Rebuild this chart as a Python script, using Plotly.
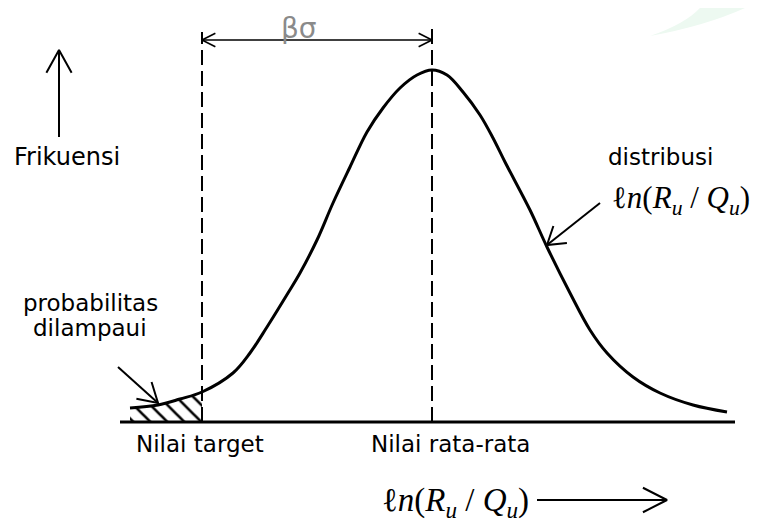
import math
import plotly.graph_objects as go

# ---- data (x: ln(Ru/Qu) axis units, f: frequency) ----
curve_x = [130, 158, 180, 202, 233, 250, 267, 288, 300, 317, 333, 350, 367, 383, 400, 417,
           432, 447, 463, 480, 493, 505, 530, 547, 570, 590, 607, 633, 660, 693, 727]
curve_f = [14, 17, 23, 30, 49, 69, 95, 129, 149, 182, 219, 255, 290, 314, 334, 347,
           352, 347, 330, 307, 284, 260, 212, 175, 129, 92, 69, 45, 29, 17, 10]
target_x = 202
mean_x = 432
axis_x = [120, 735]

labels = {
    "beta": "βσ",
    "freq": "Frikuensi",
    "dist": "distribusi",
    "prob1": "probabilitas",
    "prob2": "dilampaui",
    "target": "Nilai target",
    "mean": "Nilai rata-rata",
}
formula = "ℓ<i>n</i>(<i>R</i><sub><i>u</i></sub> / <i>Q</i><sub><i>u</i></sub>)"

# page body has an 8px margin: figure sized to fill the rest of the window
W, H = 750, 514
X_RANGE = [8, 758]
Y_RANGE = [-100, 414]

fig = go.Figure()

# hatched exceedance region
hx = [x for x in curve_x if x <= target_x]
hf = curve_f[:len(hx)]
fig.add_trace(go.Scatter(x=hx, y=hf, mode="lines", line=dict(width=0, shape="spline"),
                         fill="tozeroy", fillcolor="white",
                         fillpattern=dict(shape="\\", fgcolor="black", fgopacity=1,
                                          bgcolor="white", size=12, solidity=0.22),
                         hoverinfo="skip", showlegend=False))

# dashed vertical lines
fig.add_trace(go.Scatter(x=[target_x, target_x], y=[0, 390], mode="lines",
                         line=dict(color="black", width=2, dash="15px,6px"), showlegend=False))
fig.add_trace(go.Scatter(x=[mean_x, mean_x], y=[0, 397], mode="lines",
                         line=dict(color="black", width=2, dash="15px,6px"), showlegend=False))

# distribution curve
fig.add_trace(go.Scatter(x=curve_x, y=curve_f, mode="lines",
                         line=dict(color="black", width=3, shape="spline", smoothing=1.0),
                         showlegend=False))

# baseline
fig.add_trace(go.Scatter(x=axis_x, y=[0, 0], mode="lines",
                         line=dict(color="black", width=3), showlegend=False))


def head(tip, tail, L, spread):
    ang = math.atan2(tail[1] - tip[1], tail[0] - tip[0])
    xs, ys = [], []
    for s in (-spread, spread):
        a = ang + math.radians(s)
        xs.append(tip[0] + L * math.cos(a))
        ys.append(tip[1] + L * math.sin(a))
    return [xs[0], tip[0], xs[1], None], [ys[0], tip[1], ys[1], None]


def arrow(tail, tip, L, spread, width=2, both=False, color="black"):
    xs = [tail[0], tip[0], None]
    ys = [tail[1], tip[1], None]
    hx_, hy_ = head(tip, tail, L, spread)
    xs += hx_
    ys += hy_
    if both:
        hx_, hy_ = head(tail, tip, L, spread)
        xs += hx_
        ys += hy_
    fig.add_trace(go.Scatter(x=xs, y=ys, mode="lines",
                             line=dict(color=color, width=width), showlegend=False))


arrow((59, 285), (59, 372), 26, 29)                       # frequency axis arrow
arrow((target_x, 382), (mean_x, 382), 15, 27, width=1.6, both=True)  # beta sigma
arrow((600, 219), (547, 177), 20, 33)                     # distribusi pointer
arrow((118, 55), (158, 19), 22, 31)                       # probabilitas pointer
arrow((537, -78), (667, -78), 27, 27)                     # bottom axis arrow

sans = "DejaVu Sans, Liberation Sans, Arial"
serif = "Liberation Serif, Times New Roman, DejaVu Serif"


def text(x, y, s, size=23, family=sans, color="black"):
    fig.add_annotation(x=x, y=y, text=s, showarrow=False, xanchor="center", yanchor="middle",
                       font=dict(family=family, size=size, color=color))


text(299, 394, labels["beta"], size=28, color="#8a8a8a")
text(67, 265, labels["freq"], size=24)
text(660, 265, labels["dist"])
text(681, 222, formula, size=31, family=serif)
text(90, 119, labels["prob1"])
text(90, 94, labels["prob2"])
text(200, -22, labels["target"])
text(450, -22, labels["mean"])
text(455, -80, formula, size=33, family=serif)

# faint watermark swoosh
fig.add_shape(type="path", xref="x", yref="y",
              path="M 650,386 Q 705,396 745,414 L 700,414 Q 685,398 650,386 Z",
              fillcolor="#edf9f1", line=dict(width=0), layer="below")

fig.update_layout(width=W, height=H, autosize=False,
                  margin=dict(l=0, r=0, t=0, b=0),
                  paper_bgcolor="white", plot_bgcolor="white",
                  xaxis=dict(range=X_RANGE, visible=False, fixedrange=True),
                  yaxis=dict(range=Y_RANGE, visible=False, fixedrange=True),
                  showlegend=False)

fig.write_html("out.html")
